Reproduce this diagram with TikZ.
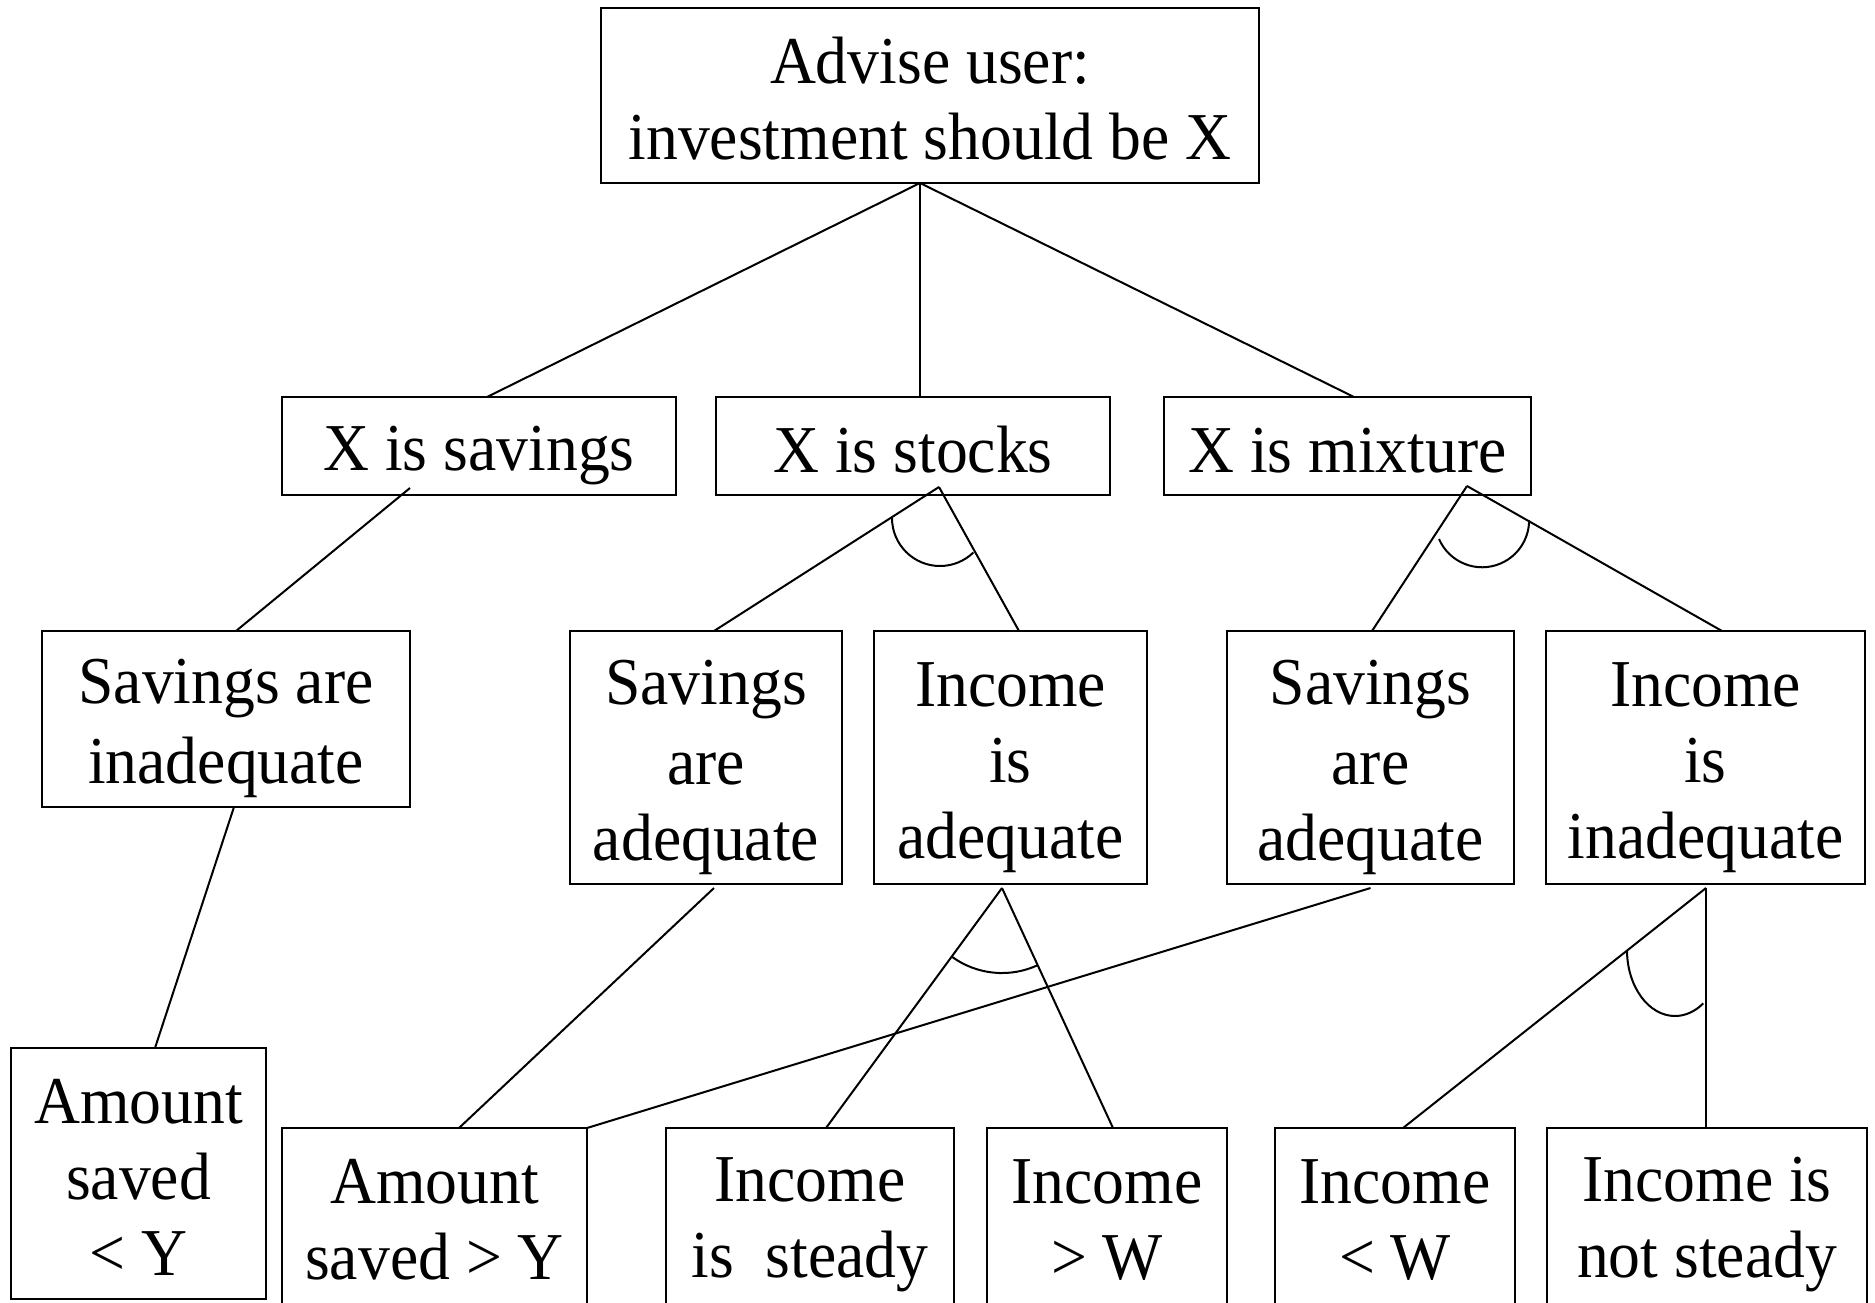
\documentclass[tikz,border=0pt]{standalone}
\usepackage{fontspec}
\newfontfamily\treefont[FakeStretch=0.95]{Liberation Serif}
% line strut: every line gets the same height and depth
\newcommand\ls{\rule[-5.75pt]{0pt}{37.5pt}}
\begin{document}
\begin{tikzpicture}[x=0.5pt,y=-0.5pt,
  box/.style={draw, rectangle, line width=1.1pt, inner sep=0pt, outer sep=0pt,
    align=center, font={\treefont\fontsize{33.5pt}{38pt}\selectfont}},
  openbox/.style={box, draw=none},
  link/.style={line width=1pt}]
\path[use as bounding box] (0,0) rectangle (1875,1302);
\clip (0,0) rectangle (1875,1302);

% goal
\node[box, minimum width=329pt, minimum height=87.5pt] (adv) at (930,95.5)
  {\ls Advise user:\\\ls investment should be X};

% choices for X
\node[box, minimum width=197pt, minimum height=49pt] (xsv) at (479,446) {\ls X is savings};
\node[box, minimum width=197pt, minimum height=49pt] (xst) at (913,446) {\ls X is stocks};
\node[box, minimum width=183.5pt, minimum height=49pt] (xmx) at (1347.5,446) {\ls X is mixture};

% conditions
\node[box, minimum width=184pt, minimum height=88pt] (si) at (226,719)
  {\ls Savings are\\\ls inadequate};
\node[box, minimum width=136pt, minimum height=126.5pt] (sa1) at (706,757.5)
  {\ls Savings\\\ls are\\\ls adequate};
\node[box, minimum width=136.5pt, minimum height=126.5pt] (ia) at (1010.5,757.5)
  {\ls Income\\\ls is\\\ls adequate};
\node[box, minimum width=143.5pt, minimum height=126.5pt] (sa2) at (1370.5,757.5)
  {\ls Savings\\\ls are\\\ls adequate};
\node[box, minimum width=159.5pt, minimum height=126.5pt] (ii) at (1705.5,757.5)
  {\ls Income\\\ls is\\\ls inadequate};

% tests
\node[box, minimum width=127.5pt, minimum height=125.5pt] (asl) at (138.5,1173.5)
  {\ls Amount\\\ls saved\\\ls < Y};
\node[openbox, minimum width=152.5pt, minimum height=87pt] (asy) at (434.5,1215)
  {\ls Amount\\\ls saved > Y};
\node[openbox, minimum width=144pt, minimum height=87pt] (ist) at (810,1215)
  {\ls Income\\\ls is\ \ steady};
\node[openbox, minimum width=120pt, minimum height=87pt] (igw) at (1107,1215)
  {\ls Income\\\ls > W};
\node[openbox, minimum width=120pt, minimum height=87pt] (ilw) at (1395,1215)
  {\ls Income\\\ls < W};
\node[openbox, minimum width=160pt, minimum height=87pt] (ins) at (1707,1215)
  {\ls Income is\\\ls not steady};
\foreach \n in {asy,ist,igw,ilw,ins}
  \draw[line width=1.1pt] ([yshift=-20pt]\n.south west) -- (\n.north west)
    -- (\n.north east) -- ([yshift=-20pt]\n.south east);

% branch points
\coordinate (adv-a) at ([xshift=-5pt]adv.south);
\coordinate (xst-a) at ([shift={(26,-8)}]xst.south);
\coordinate (xmx-a) at ([shift={(119.5,-9)}]xmx.south);
\coordinate (ia-a) at ([shift={(-8.5,4)}]ia.south);
\coordinate (ii-a) at ([shift={(0.5,4)}]ii.south);

% links from the goal
\draw[link] (adv-a) -- ([xshift=4pt]xsv.north);
\draw[link] (adv-a) -- (adv-a |- xst.north);
\draw[link] (adv-a) -- ([xshift=3.25pt]xmx.north);

% X is savings
\draw[link] ([shift={(-69,-7)}]xsv.south) -- ([xshift=5pt]si.north);
\draw[link] ([xshift=4pt]si.south) -- ([xshift=8.25pt]asl.north);

% X is stocks (conjunction)
\draw[link] (xst-a) -- ([xshift=4pt]sa1.north);
\draw[link] (xst-a) -- ([xshift=4.25pt]ia.north);
\draw[link] ([shift={(-47,31)}]xst-a) arc[start angle=180, end angle=314, radius=24pt];

% X is mixture (conjunction)
\draw[link] (xmx-a) -- ([xshift=0.75pt]sa2.north);
\draw[link] (xmx-a) -- ([xshift=8.25pt]ii.north);
\draw[link] ([shift={(-28,53)}]xmx-a) arc[start angle=203.5, end angle=360, radius=23.5pt];

% savings adequate
\draw[link] ([shift={(8,4)}]sa1.south) -- ([xshift=12.25pt]asy.north);
\draw[link] ([yshift=-2pt]sa2.south) -- (asy.north east);

% income adequate (conjunction)
\draw[link] (ia-a) -- ([xshift=8pt]ist.north);
\draw[link] (ia-a) -- ([xshift=3pt]igw.north);
\draw[link] ([shift={(-50,68.8)}]ia-a) arc[start angle=234, end angle=295, radius=42.5pt];

% income inadequate (conjunction)
\draw[link] (ii-a) -- ([xshift=4pt]ilw.north);
\draw[link] (ii-a) -- (ii-a |- ins.north);
\draw[link] ([shift={(-79,62)}]ii-a) arc[start angle=180, end angle=306, x radius=24pt, y radius=33pt];
\end{tikzpicture}
\end{document}
